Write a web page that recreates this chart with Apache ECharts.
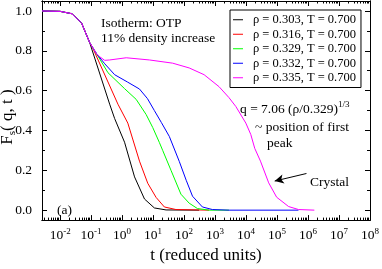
<!DOCTYPE html>
<html><head><meta charset="utf-8">
<script src="https://cdn.jsdelivr.net/npm/echarts@6/dist/echarts.min.js"></script>
<style>html,body{margin:0;padding:0;background:#fff}#c{width:382px;height:269px}</style>
</head><body><div id="c"></div>
<script>
const FONT = 'Liberation Serif';
const seriesNames = ['ρ = 0.303, T = 0.700','ρ = 0.316, T = 0.700','ρ = 0.329, T = 0.700','ρ = 0.332, T = 0.700','ρ = 0.335, T = 0.700'];
const seriesColors = ['#000000','#ff0000','#00ff00','#0000ff','#ff00ff'];

const tBlack = [0.0026,0.01,0.024,0.049,0.09,0.397,0.574,1.2,2.52,5.27,11.0,26.2,306];
const fBlack = [1,0.998,0.986,0.94,0.841,0.532,0.46,0.341,0.167,0.056,0.011,0.001,0];
const tRed = [0.0026,0.01,0.024,0.049,0.09,0.116,0.733,1.53,3.64,6.72,12.5,23.1,54.7,640];
const fRed = [1,0.998,0.986,0.94,0.841,0.81,0.532,0.437,0.246,0.135,0.064,0.016,0.003,0];
const tGreen = [0.0026,0.01,0.024,0.049,0.09,0.149,0.35,1.2,2.85,5.97,9.72,15.9,20.4,37.8,79.2,146,270,640,2805];
const fGreen = [1,0.998,0.986,0.94,0.841,0.786,0.69,0.61,0.556,0.48,0.415,0.34,0.30,0.20,0.08,0.035,0.008,0,0];
const tBlue = [0.0026,0.01,0.024,0.049,0.09,0.149,0.275,0.574,1.50,3.64,6.58,11.0,18.5,33.4,69.8,117,187,390,817,2805,492000];
const fBlue = [1,0.998,0.986,0.94,0.841,0.786,0.735,0.68,0.643,0.608,0.56,0.50,0.44,0.37,0.245,0.15,0.07,0.016,0.003,0,0];
const tMagenta = [0.0026,0.01,0.024,0.049,0.09,0.149,0.19,0.275,0.397,1.36,7.62,42.6,146,443,1340,2805,4700,9840,14200,19100,29200,53800,97000,236000,493000,1.6e6];
const fMagenta = [1,0.998,0.986,0.94,0.841,0.786,0.77,0.752,0.754,0.765,0.754,0.738,0.714,0.68,0.62,0.565,0.52,0.437,0.38,0.31,0.246,0.137,0.065,0.018,0.003,0];

const xMajorTicks = [1e-2,1e-1,1e0,1e1,1e2,1e3,1e4,1e5,1e6,1e7,1e8];
const yMajorTicks = [0,0.2,0.4,0.6,0.8,1.0];
const yMinorTicks = [0.1,0.3,0.5,0.7,0.9];
const xMinorTicks = [];
for (let e = -3; e < 8; e++) for (let m = 2; m <= 9; m++) xMinorTicks.push(m * Math.pow(10, e));

const X_MIN = 0.0026, X_MAX = 1e8, Y_MIN = -0.05, Y_MAX = 1.05;

const tList = [tBlack,tRed,tGreen,tBlue,tMagenta];
const fList = [fBlack,fRed,fGreen,fBlue,fMagenta];

function xAx(pos, ticks, len, labels) {
  return {
    type: 'log', logBase: 10, min: X_MIN, max: X_MAX, position: pos,
    axisLine: { show: true, onZero: false, lineStyle: { color: '#000', width: 1 } },
    splitLine: { show: false },
    axisTick: { show: true, inside: true, length: len, customValues: ticks, lineStyle: { color: '#000', width: 1 } },
    axisLabel: labels ? {
      show: true, customValues: xMajorTicks, margin: 7, color: '#000',
      fontFamily: FONT, fontSize: 13,
      formatter: v => '{b|10}{s|' + Math.round(Math.log10(v)) + '}',
      rich: { b: { fontFamily: FONT, fontSize: 13.5, lineHeight: 15, verticalAlign: 'bottom', color: '#000' },
              s: { fontFamily: FONT, fontSize: 9, lineHeight: 9, verticalAlign: 'top', color: '#000' } }
    } : { show: false }
  };
}
function yAx(pos, ticks, len, labels) {
  return {
    type: 'value', min: Y_MIN, max: Y_MAX, position: pos,
    axisLine: { show: true, onZero: false, lineStyle: { color: '#000', width: 1 } },
    splitLine: { show: false },
    axisTick: { show: true, inside: true, length: len, customValues: ticks, lineStyle: { color: '#000', width: 1 } },
    axisLabel: labels ? {
      show: true, customValues: yMajorTicks, margin: 10, color: '#000',
      fontFamily: FONT, fontSize: 13.5, formatter: v => v.toFixed(1)
    } : { show: false }
  };
}

const series = seriesNames.map((name, i) => ({
  name, type: 'line', xAxisIndex: 0, yAxisIndex: 0,
  showSymbol: false, symbol: 'none', smooth: false,
  lineStyle: { color: seriesColors[i], width: 1 },
  itemStyle: { color: seriesColors[i] },
  data: tList[i].map((t, j) => [t, fList[i][j]]),
  z: 2 + i
}));
series[4].markLine = {
  silent: true, symbol: ['none', 'arrow'], symbolSize: [7, 9],
  label: { show: false },
  lineStyle: { color: '#000', width: 1, type: 'solid' },
  data: [[{ coord: [8.9e5, 0.184] }, { coord: [8.4e4, 0.146] }]]
};

const chart = echarts.init(document.getElementById('c'), null, { renderer: 'canvas' });
chart.setOption({
  animation: false,
  backgroundColor: '#fff',
  grid: { left: 42, right: 10, top: 1, bottom: 37 },
  xAxis: [
    Object.assign(xAx('bottom', xMajorTicks, 5, true), {
      name: 't (reduced units)', nameLocation: 'middle', nameGap: 19,
      nameTextStyle: { fontFamily: FONT, fontSize: 17, color: '#000' }
    }),
    xAx('bottom', xMinorTicks, 2.5, false),
    xAx('top', xMajorTicks, 5, false),
    xAx('top', xMinorTicks, 2.5, false)
  ],
  yAxis: [
    yAx('left', yMajorTicks, 5, true),
    yAx('left', yMinorTicks, 3, false),
    yAx('right', yMajorTicks, 5, false),
    yAx('right', yMinorTicks, 3, false)
  ],
  legend: {
    orient: 'vertical', left: 230, top: 10,
    padding: [3, 5, 3, 3], itemGap: 1,
    icon: 'rect', itemWidth: 10, itemHeight: 1,
    borderColor: '#000', borderWidth: 1, backgroundColor: '#fff',
    formatter: name => '{t|' + name + '}',
    textStyle: { fontFamily: FONT, fontSize: 12.5, color: '#000', lineHeight: 13.5,
      rich: { t: { fontFamily: FONT, fontSize: 12.5, lineHeight: 13.5, color: '#000', padding: [0, 0, 0, 5] } } },
    data: seriesNames
  },
  graphic: [
    { type: 'text', x: 8, y: 117, rotation: Math.PI / 2,
      style: { text: '{a|F}{b|s}{a|( q, t )}', textAlign: 'center', textVerticalAlign: 'middle',
        rich: { a: { fontFamily: FONT, fontSize: 17, lineHeight: 19, verticalAlign: 'middle', fill: '#000' },
                b: { fontFamily: FONT, fontSize: 11, lineHeight: 11, verticalAlign: 'bottom', fill: '#000' } } } },
    { type: 'text', x: 101, y: 23, style: { text: 'Isotherm: OTP', font: '13.5px "Liberation Serif"', fill: '#000', textVerticalAlign: 'middle' } },
    { type: 'text', x: 101, y: 38, style: { text: '11% density increase', font: '13.5px "Liberation Serif"', fill: '#000', textVerticalAlign: 'middle' } },
    { type: 'text', x: 240, y: 108,
      style: { text: '{a|q = 7.06 (ρ/0.329)}{s|1/3}', textVerticalAlign: 'middle',
        rich: { a: { fontFamily: FONT, fontSize: 13.5, lineHeight: 16, verticalAlign: 'bottom', fill: '#000' },
                s: { fontFamily: FONT, fontSize: 9, lineHeight: 9, verticalAlign: 'top', fill: '#000' } } } },
    { type: 'text', x: 255, y: 127, style: { text: '~ position of first', font: '13.5px "Liberation Serif"', fill: '#000', textVerticalAlign: 'middle' } },
    { type: 'text', x: 267, y: 143, style: { text: 'peak', font: '13.5px "Liberation Serif"', fill: '#000', textVerticalAlign: 'middle' } },
    { type: 'text', x: 310, y: 182, style: { text: 'Crystal', font: '13.5px "Liberation Serif"', fill: '#000', textVerticalAlign: 'middle' } },
    { type: 'text', x: 57, y: 210, style: { text: '(a)', font: '13.5px "Liberation Serif"', fill: '#000', textVerticalAlign: 'middle' } }
  ],
  series
});
</script></body></html>
